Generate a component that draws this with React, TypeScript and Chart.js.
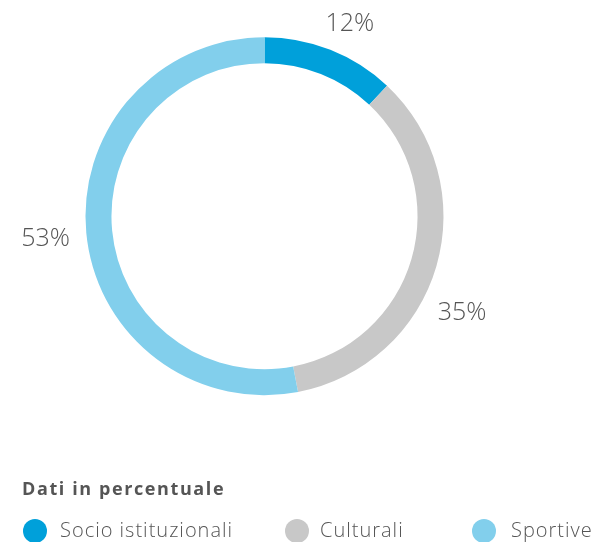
import React, { useEffect, useRef } from "react";
import { Chart, registerables } from "chart.js";

Chart.register(...registerables);

const categories = ["Socio istituzionali", "Culturali", "Sportive"];
const values = [12, 35, 53];
const colors = ["#00A0DA", "#C8C8C8", "#82CFEC"];
const legendTitle = "Dati in percentuale";

// small angular nudges (degrees) for the outside percentage labels
const labelAngleShift = [2.4, 9.9, -0.4];
const labelDistance = [210, 220, 220];

const TEXT = "#555555";
const FONT = "'Open Sans', 'Noto Sans', sans-serif";

const outLabels = {
  id: "outLabels",
  afterDatasetsDraw(chart: any) {
    const ctx = chart.ctx;
    const meta = chart.getDatasetMeta(0);
    const total = values.reduce((a, b) => a + b, 0);
    ctx.save();
    ctx.font = `300 25px ${FONT}`;
    ctx.fillStyle = TEXT;
    ctx.textAlign = "center";
    ctx.textBaseline = "middle";
    meta.data.forEach((arc: any, i: number) => {
      const p = arc.getProps(["x", "y", "startAngle", "endAngle"], true);
      const mid = (p.startAngle + p.endAngle) / 2 + (labelAngleShift[i] * Math.PI) / 180;
      const r = labelDistance[i];
      const x = p.x + Math.cos(mid) * r;
      const y = p.y + Math.sin(mid) * r;
      const pct = Math.round((values[i] / total) * 100);
      ctx.fillText(pct + "%", x, y);
    });
    ctx.restore();
  },
};

export default function App() {
  const ref = useRef<HTMLCanvasElement | null>(null);
  useEffect(() => {
    document.body.style.margin = "0";
    const chart = new Chart(ref.current as HTMLCanvasElement, {
      type: "doughnut",
      data: {
        labels: categories,
        datasets: [
          {
            data: values,
            backgroundColor: colors,
            borderWidth: 0,
          },
        ],
      },
      options: {
        animation: false,
        responsive: false,
        maintainAspectRatio: false,
        cutout: "85.5%",
        layout: { padding: { left: 85.5, top: 37.2, right: 154.5, bottom: 146.8 } },
        plugins: {
          legend: { display: false },
          tooltip: { enabled: false },
        },
      },
      plugins: [outLabels],
    });
    return () => chart.destroy();
  }, []);

  const legendX = [[35, 60], [297, 320], [484, 511]];
  return (
    <div style={{ position: "relative", width: 598, height: 542, overflow: "hidden", background: "#fff" }}>
      <canvas ref={ref} width={598} height={542} style={{ position: "absolute", left: 0, top: 0 }} />
      <div
        style={{
          position: "absolute",
          left: 22,
          top: 475,
          fontFamily: FONT,
          fontWeight: 700,
          fontSize: 18,
          letterSpacing: 1.6,
          color: TEXT,
          lineHeight: "26px",
          whiteSpace: "nowrap",
        }}
      >
        {legendTitle}
      </div>
      {categories.map((c, i) => (
        <React.Fragment key={c}>
          <div
            style={{
              position: "absolute",
              left: legendX[i][0] - 12,
              top: 531 - 12,
              width: 24,
              height: 24,
              borderRadius: 12,
              background: colors[i],
            }}
          />
          <div
            style={{
              position: "absolute",
              left: legendX[i][1],
              top: 516,
              fontFamily: FONT,
              fontSize: 20,
              fontWeight: 300,
              letterSpacing: 1,
              color: TEXT,
              lineHeight: "28px",
              whiteSpace: "nowrap",
            }}
          >
            {c}
          </div>
        </React.Fragment>
      ))}
    </div>
  );
}
